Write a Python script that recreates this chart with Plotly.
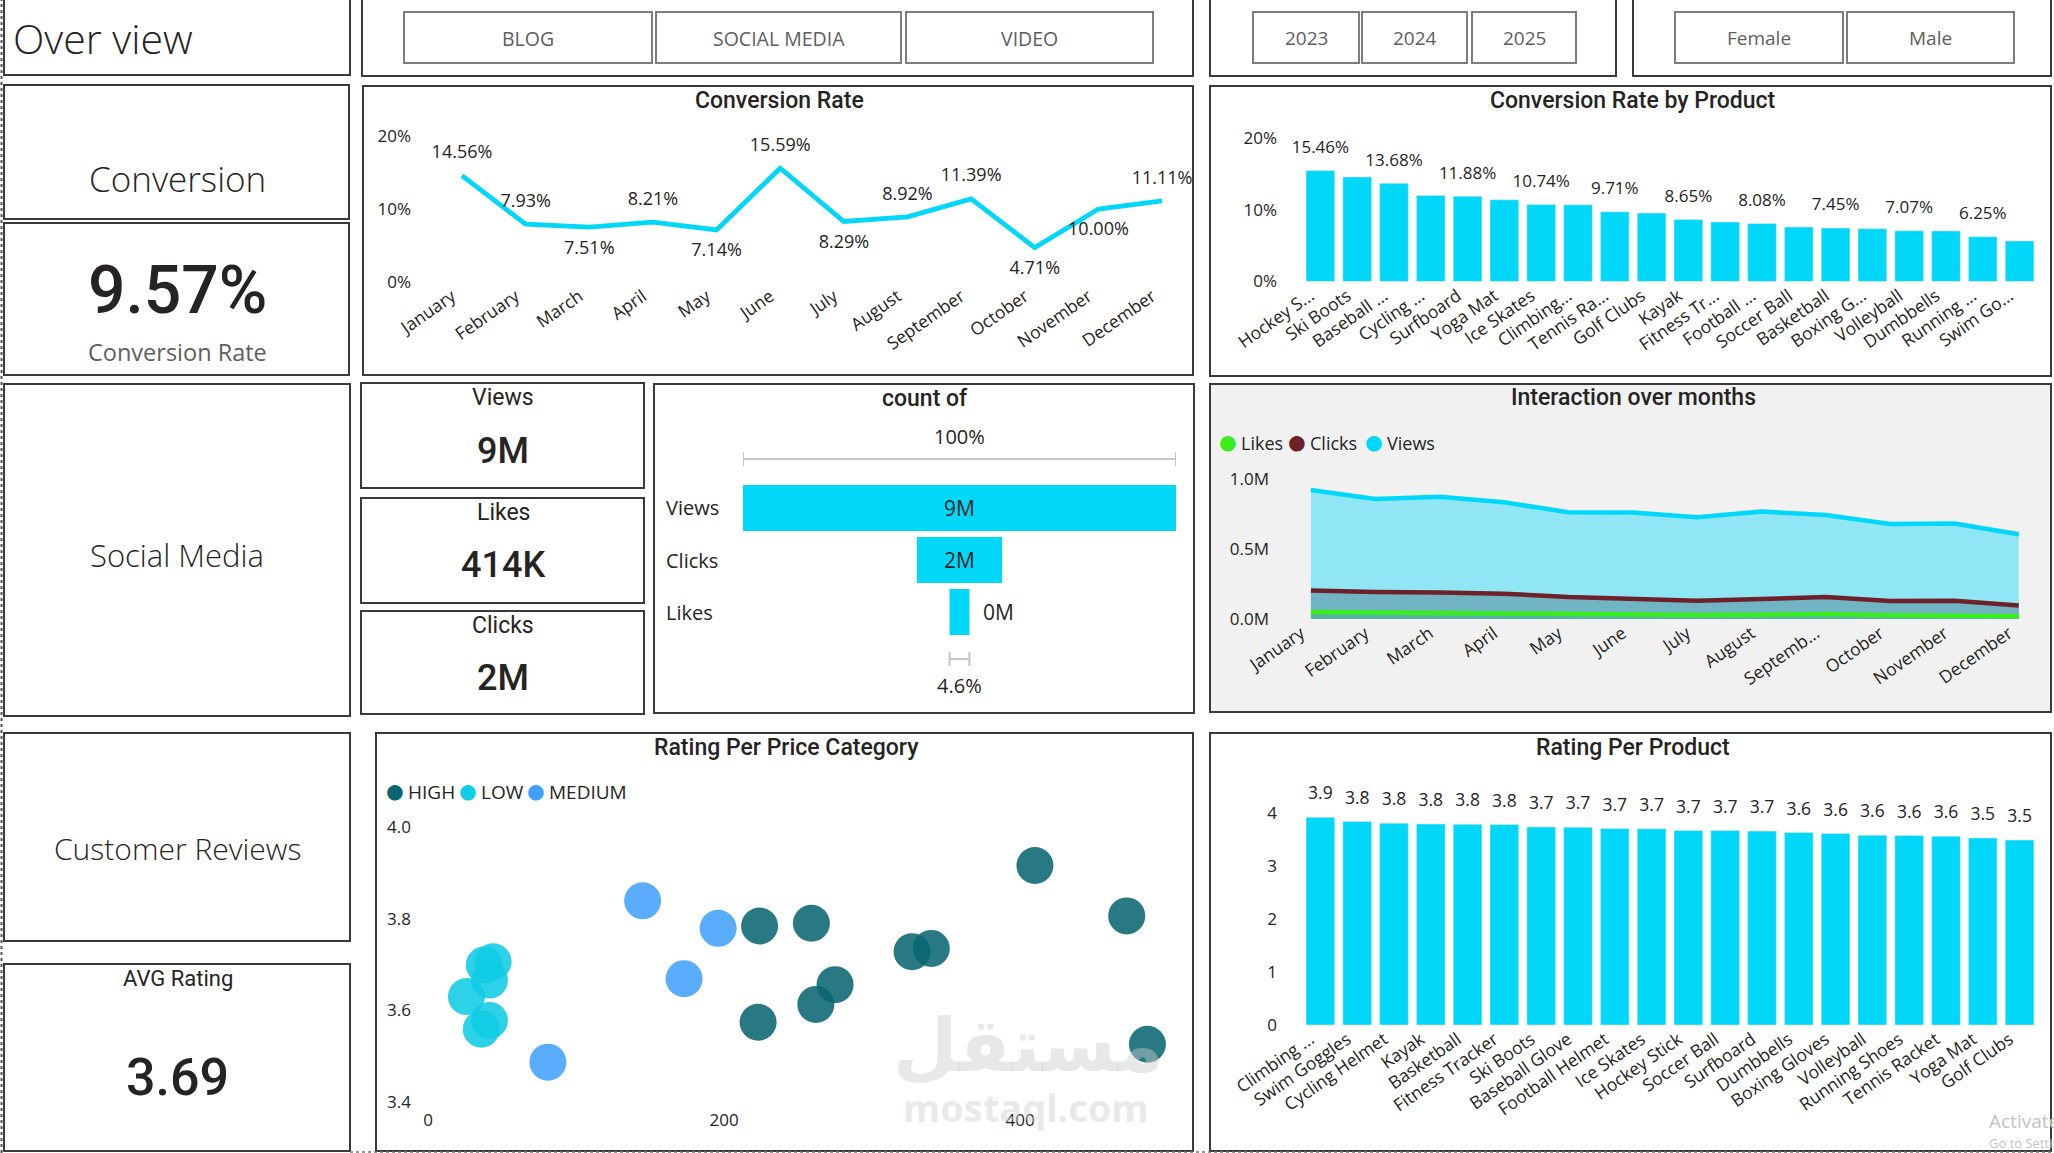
import plotly.graph_objects as go

W, H = 2054, 1153

# ---------------- DATA ----------------
months = ["January", "February", "March", "April", "May", "June", "July",
          "August", "September", "October", "November", "December"]
interaction_month_ticks = ["January", "February", "March", "April", "May", "June", "July",
                           "August", "Septemb...", "October", "November", "December"]
conversion_rate = [14.56, 7.93, 7.51, 8.21, 7.14, 15.59, 8.29, 8.92, 11.39, 4.71, 10.00, 11.11]
percent_ticks = [0, 10, 20]

product_conv_names = ["Hockey S...", "Ski Boots", "Baseball ...", "Cycling ...", "Surfboard",
                      "Yoga Mat", "Ice Skates", "Climbing...", "Tennis Ra...", "Golf Clubs",
                      "Kayak", "Fitness Tr...", "Football ...", "Soccer Ball", "Basketball",
                      "Boxing G...", "Volleyball", "Dumbbells", "Running ...", "Swim Go..."]
product_conv_rate = [15.46, 14.58, 13.68, 11.99, 11.88, 11.39, 10.74, 10.69, 9.71, 9.54,
                     8.65, 8.29, 8.08, 7.59, 7.45, 7.36, 7.07, 7.04, 6.25, 5.65]

funnel_stages = ["Views", "Clicks", "Likes"]
funnel_values = [9_000_000, 1_770_000, 414_000]

views_monthly = [922000, 857000, 874000, 834000, 762000, 760000, 727000, 767000, 743000, 679000, 682000, 606000]
clicks_monthly = [204000, 192000, 190000, 181000, 157000, 147000, 131000, 143000, 157000, 128000, 131000, 97000]
likes_monthly = [50000, 46000, 44000, 40000, 35000, 31000, 29000, 31000, 35000, 27000, 27000, 20000]
interaction_ticks = [0, 500_000, 1_000_000]

high_price = [410, 472, 224, 259, 327, 340, 275, 262, 223, 486]
high_rating = [3.916, 3.806, 3.784, 3.790, 3.728, 3.735, 3.656, 3.613, 3.574, 3.526]
low_price = [44, 38, 41.5, 26, 41.5, 36]
low_rating = [3.706, 3.699, 3.666, 3.630, 3.578, 3.559]
medium_price = [145, 196, 173, 81]
medium_rating = [3.839, 3.779, 3.669, 3.487]
price_ticks = [0, 200, 400]
rating_ticks = [3.4, 3.6, 3.8, 4.0]

rating_products = ["Climbing ...", "Swim Goggles", "Cycling Helmet", "Kayak", "Basketball",
                   "Fitness Tracker", "Ski Boots", "Baseball Glove", "Football Helmet", "Ice Skates",
                   "Hockey Stick", "Soccer Ball", "Surfboard", "Dumbbells", "Boxing Gloves",
                   "Volleyball", "Running Shoes", "Tennis Racket", "Yoga Mat", "Golf Clubs"]
rating_values = [3.916, 3.839, 3.806, 3.790, 3.784, 3.779, 3.735, 3.728, 3.706, 3.699,
                 3.669, 3.666, 3.656, 3.630, 3.613, 3.578, 3.574, 3.559, 3.526, 3.487]
product_rating_ticks = [0, 1, 2, 3, 4]

conversion_kpi = 9.57
avg_rating_kpi = 3.69
content_buttons = ["BLOG", "SOCIAL MEDIA", "VIDEO"]
year_buttons = ["2023", "2024", "2025"]
gender_buttons = ["Female", "Male"]

# ---------------- STYLE ----------------
CYAN = "#01D7F9"
TXT = "#252423"
GRAY_TXT = "#605E5C"
F_UI = "Open Sans"
F_DIN = "Roboto"
conv_label_side = ["top center", "top center", "bottom center", "top center", "bottom center",
                   "top center", "bottom center", "top center", "top center", "bottom center",
                   "bottom center", "top center"]
TICK_ANGLE = -35
TICK_SHIFT = -10


def fx(p):
    return p / W


def fy(p):
    return 1 - p / H


def short_m(v):
    return f"{v / 1e6:.0f}M"


def short_kpi(v):
    if v >= 1e6:
        return f"{v / 1e6:.0f}M"
    return f"{v / 1e3:.0f}K"


fig = go.Figure()

# --- Conversion Rate line ---
fig.add_trace(go.Scatter(
    x=months, y=conversion_rate, mode="lines+markers+text",
    line=dict(color=CYAN, width=4.8),
    marker=dict(size=19, color="rgba(0,0,0,0)"),
    text=[f"{v:.2f}%" for v in conversion_rate], textposition=conv_label_side,
    textfont=dict(size=18, color=TXT, family=F_UI), cliponaxis=False,
    xaxis="x", yaxis="y", showlegend=False, hoverinfo="skip"))

# --- Conversion Rate by Product bars ---
fig.add_trace(go.Bar(
    x=product_conv_names, y=product_conv_rate, marker=dict(color=CYAN),
    xaxis="x2", yaxis="y2", showlegend=False, hoverinfo="skip"))
fig.add_trace(go.Scatter(
    x=product_conv_names, y=product_conv_rate, mode="markers+text",
    marker=dict(size=20, color="rgba(0,0,0,0)"),
    text=[f"{v:.2f}%" if i % 2 == 0 else "" for i, v in enumerate(product_conv_rate)],
    textposition="top center", textfont=dict(size=17, color=TXT, family=F_UI),
    cliponaxis=False, xaxis="x2", yaxis="y2", showlegend=False, hoverinfo="skip"))

# --- Funnel ---
funnel_text_pos = ["inside", "inside", "outside"]
fig.add_trace(go.Funnel(
    y=funnel_stages, x=funnel_values,
    text=[("\u2002" if p == "outside" else "") + short_m(v)
          for v, p in zip(funnel_values, funnel_text_pos)],
    textinfo="text", textposition=funnel_text_pos,
    textfont=dict(size=21, color=TXT, family=F_UI),
    insidetextfont=dict(size=21, color=TXT, family=F_UI),
    outsidetextfont=dict(size=21, color=TXT, family=F_UI),
    constraintext="none",
    marker=dict(color=CYAN), connector=dict(visible=False),
    xaxis="x3", yaxis="y3", showlegend=False, hoverinfo="skip"))

# --- Interaction over months (areas) ---
area_series = [("Likes", likes_monthly, "#38EE1C", "rgba(56,238,28,0.4)"),
               ("Clicks", clicks_monthly, "#6E2129", "rgba(110,33,41,0.4)"),
               ("Views", views_monthly, "#00D7FA", "rgba(0,215,250,0.4)")]
for name, vals, col, fillc in area_series:
    fig.add_trace(go.Scatter(x=months, y=vals, mode="lines", fill="tozeroy", fillcolor=fillc,
                             line=dict(width=0, color=col), xaxis="x4", yaxis="y4",
                             showlegend=False, hoverinfo="skip"))
for name, vals, col, fillc in reversed(area_series):
    fig.add_trace(go.Scatter(x=months, y=vals, mode="lines", line=dict(width=4.5, color=col),
                             xaxis="x4", yaxis="y4", showlegend=False, hoverinfo="skip"))

# --- Rating per price category scatter ---
scatter_series = [(low_price, low_rating, "#0FCBE5"),
                  (medium_price, medium_rating, "#41A0FD"),
                  (high_price, high_rating, "#086570")]
for xs, ys, col in scatter_series:
    fig.add_trace(go.Scatter(x=xs, y=ys, mode="markers",
                             marker=dict(size=37, color=col, opacity=0.87, line=dict(width=0)),
                             xaxis="x5", yaxis="y5", showlegend=False, hoverinfo="skip",
                             cliponaxis=False))

# --- Rating per product bars ---
fig.add_trace(go.Bar(x=rating_products, y=rating_values, marker=dict(color=CYAN),
                     xaxis="x6", yaxis="y6", showlegend=False, hoverinfo="skip"))
fig.add_trace(go.Scatter(
    x=rating_products, y=rating_values, mode="markers+text",
    marker=dict(size=20, color="rgba(0,0,0,0)"),
    text=[f"{v:.1f}" for v in rating_values], textposition="top center",
    textfont=dict(size=17.5, color=TXT, family=F_UI), cliponaxis=False,
    xaxis="x6", yaxis="y6", showlegend=False, hoverinfo="skip"))

# ---------------- AXES ----------------
AX = dict(showgrid=False, zeroline=False, showline=False, ticks="", fixedrange=True,
          automargin=False)
XTICKF = dict(size=17.5, color=TXT, family=F_UI)
YTICKF = dict(size=17, color=TXT, family=F_UI)
ROT = dict(tickangle=TICK_ANGLE, tickfont=XTICKF, ticklabelshift=TICK_SHIFT)

layout_axes = dict(
    xaxis=dict(AX, domain=[fx(420), fx(1185)], range=[-0.66, 11.36], type="category",
               anchor="y", **ROT),
    yaxis=dict(AX, domain=[fy(282), fy(136)], range=[0, 20], tickvals=percent_ticks,
               ticktext=[f"{v}%" for v in percent_ticks], tickfont=YTICKF, anchor="x",
               ticklabelstandoff=8),
    xaxis2=dict(AX, domain=[fx(1302), fx(2038)], type="category", anchor="y2",
                range=[-0.5, len(product_conv_names) - 0.5], **ROT),
    yaxis2=dict(AX, domain=[fy(281.5), fy(138)], range=[0, 20], tickvals=percent_ticks,
                ticktext=[f"{v}%" for v in percent_ticks], tickfont=YTICKF, anchor="x2",
                ticklabelstandoff=24),
    xaxis3=dict(AX, domain=[fx(743), fx(1176)],
                range=[-funnel_values[0] / 2, funnel_values[0] / 2],
                showticklabels=False, anchor="y3"),
    yaxis3=dict(AX, domain=[fy(638), fy(482)], showticklabels=False, anchor="x3",
                autorange="reversed"),
    xaxis4=dict(AX, domain=[fx(1280), fx(2040)], range=[-0.48, 11.33], type="category",
                anchor="y4", tickvals=months, ticktext=interaction_month_ticks, **ROT),
    yaxis4=dict(AX, domain=[fy(619), fy(479)], range=[0, 1_000_000],
                tickvals=interaction_ticks, ticktext=[f"{v / 1e6:.1f}M" for v in interaction_ticks],
                tickfont=YTICKF, anchor="x4", ticklabelstandoff=10),
    xaxis5=dict(AX, domain=[fx(420), fx(1180)], range=[-5.4, 508], tickvals=price_ticks,
                tickfont=YTICKF, anchor="y5", ticklabelstandoff=6),
    yaxis5=dict(AX, domain=[fy(1102), fy(827)], range=[3.4, 4.0],
                tickvals=rating_ticks, ticktext=[f"{v:.1f}" for v in rating_ticks],
                tickfont=YTICKF, anchor="x5", ticklabelstandoff=8),
    xaxis6=dict(AX, domain=[fx(1302), fx(2038)], type="category", anchor="y6",
                range=[-0.5, len(rating_products) - 0.5], **ROT),
    yaxis6=dict(AX, domain=[fy(1025), fy(780)], range=[0, 4.62], tickvals=product_rating_ticks,
                tickfont=YTICKF, anchor="x6", ticklabelstandoff=24),
)

# ---------------- SHAPES ----------------
shapes = []


def rect(x0, y0, x1, y1, line="#3a3a3a", width=2, fill="rgba(0,0,0,0)"):
    shapes.append(dict(type="rect", xref="paper", yref="paper",
                       x0=fx(x0), x1=fx(x1), y0=fy(y1), y1=fy(y0),
                       line=dict(color=line, width=width), fillcolor=fill, layer="below"))


# panels
rect(4, -3, 350, 75)
rect(362, -3, 1193, 76)
rect(1210, -3, 1616, 76)
rect(1633, -3, 2051, 76)
rect(4, 85, 349, 219)
rect(4, 223, 349, 375)
rect(363, 86, 1193, 375)
rect(1210, 86, 2051, 376)
rect(4, 384, 350, 716)
rect(361, 383, 644, 488)
rect(361, 498, 644, 603)
rect(361, 611, 644, 714)
rect(654, 384, 1194, 713)
rect(1210, 384, 2051, 712, fill="#F0F1F0")
rect(4, 733, 350, 941)
rect(4, 964, 350, 1151)
rect(376, 733, 1193, 1151)
rect(1210, 733, 2051, 1151)

# buttons
btn_boxes_content = [(404, 652), (656, 901), (906, 1153)]
btn_boxes_year = [(1253, 1359), (1362, 1467), (1472, 1576)]
btn_boxes_gender = [(1675, 1843), (1847, 2014)]
for (a, b) in btn_boxes_content + btn_boxes_year + btn_boxes_gender:
    rect(a, 12, b, 63, line="#7d7d7d", width=2, fill="white")

# dotted selection edges
shapes.append(dict(type="line", xref="paper", yref="paper", x0=fx(1.5), x1=fx(1.5),
                   y0=0, y1=1, line=dict(color="#555", width=2, dash="dot")))
shapes.append(dict(type="line", xref="paper", yref="paper", x0=fx(350), x1=1,
                   y0=fy(1152), y1=fy(1152), line=dict(color="#777", width=1.5, dash="dot")))

# funnel brackets
V = funnel_values[0]
L = funnel_values[2]
BR = dict(color="#C6C6C6", width=2)
for (half, yy) in [(V / 2, 459), (L / 2, 659)]:
    shapes.append(dict(type="line", xref="x3", yref="paper", x0=-half, x1=half,
                       y0=fy(yy), y1=fy(yy), line=BR))
    for sx in (-half, half):
        shapes.append(dict(type="line", xref="x3", yref="paper", x0=sx, x1=sx,
                           y0=fy(yy - 7), y1=fy(yy + 7), line=BR))

# ---------------- ANNOTATIONS ----------------
annotations = []


def label(x, y, text, size, color=TXT, family=F_UI, xanchor="center", yanchor="middle",
          weight="normal", xref="paper", yref="paper"):
    annotations.append(dict(
        x=fx(x) if xref == "paper" else x, y=fy(y) if yref == "paper" else y,
        xref=xref, yref=yref, text=text, showarrow=False,
        xanchor=xanchor, yanchor=yanchor,
        font=dict(size=size, color=color, family=family, weight=weight)))


label(11, 38, "Over view", 41, xanchor="left", weight=350)
for t, (a, b) in zip(content_buttons, btn_boxes_content):
    label((a + b) / 2, 38, t, 19.5, color=GRAY_TXT)
for t, (a, b) in zip(year_buttons, btn_boxes_year):
    label((a + b) / 2, 38, t, 19, color=GRAY_TXT)
for t, (a, b) in zip(gender_buttons, btn_boxes_gender):
    label((a + b) / 2, 38, t, 19, color=GRAY_TXT)

# left column cards
label(177, 178, "Conversion", 35, weight=350)
label(177, 290, f"{conversion_kpi:.2f}%", 66, family=F_DIN, weight=500)
label(177, 352, "Conversion Rate", 23.5, color=GRAY_TXT)
label(177, 555, "Social Media", 31, weight=350)
label(177, 848, "Customer Reviews", 30, weight=350)
label(178, 978, "AVG Rating", 22, family=F_DIN)
label(177, 1077, f"{avg_rating_kpi:.2f}", 52, family=F_DIN, weight=500)

# KPI cards
kpi_titles = ["Views", "Likes", "Clicks"]
kpi_vals = [funnel_values[0], funnel_values[2], funnel_values[1]]
kpi_title_y = [397, 513, 625]
kpi_val_y = [451, 565, 678]
for t, v, ty, vy in zip(kpi_titles, kpi_vals, kpi_title_y, kpi_val_y):
    label(503, ty, t, 23, family=F_DIN)
    label(503, vy, short_kpi(v), 36, family=F_DIN, weight=500)

# chart titles
TITLE_SZ = 23
label(779, 100, "Conversion Rate", TITLE_SZ, family=F_DIN, weight=500)
label(1633, 100, "Conversion Rate by Product", TITLE_SZ, family=F_DIN, weight=500)
label(925, 398, "count of", TITLE_SZ, family=F_DIN, weight=500)
label(1633, 397, "Interaction over months", TITLE_SZ, family=F_DIN, weight=500)
label(786, 747, "Rating Per Price Category", TITLE_SZ, family=F_DIN, weight=500)
label(1633, 747, "Rating Per Product", TITLE_SZ, family=F_DIN, weight=500)

# funnel labels
for st in funnel_stages:
    label(664, st, st, 20, xanchor="left", yref="y3")
label(0, 436, f"{funnel_values[0] / funnel_values[0] * 100:.0f}%", 20, xref="x3")
label(0, 685, f"{funnel_values[2] / funnel_values[0] * 100:.1f}%", 20, xref="x3")

# interaction legend
for (name, vals, col, fillc), dx in zip(area_series, [1228, 1297, 1374]):
    label(dx, 440, "●", 36, color=col)
    label(dx + 11, 443, name, 18, xanchor="left")

# scatter legend
for name, col, dx in [("HIGH", "#0B6571", 395), ("LOW", "#11CDE5", 468), ("MEDIUM", "#41A0FD", 536)]:
    label(dx, 789, "●", 36, color=col)
    label(dx + 11, 792, name, 19, xanchor="left")

# watermarks
label(1028, 1045, "مستقل", 74, color="rgba(205,205,205,0.45)", family="DejaVu Sans", weight="bold")
label(1026, 1107, "mostaql.com", 38, color="rgba(205,205,205,0.45)", family="Noto Sans", weight="bold")
label(1987, 1121, "Activate Windows", 19, color="#C4C4C4", xanchor="left")
label(1987, 1143, "Go to Settings to activate Windows.", 13, color="#C4C4C4", xanchor="left")

fig.update_layout(
    width=W, height=H, margin=dict(l=0, r=0, t=0, b=0, autoexpand=False),
    paper_bgcolor="white", plot_bgcolor="rgba(0,0,0,0)",
    bargap=0.22, funnelgap=0.12, showlegend=False,
    shapes=shapes, annotations=annotations,
    font=dict(family=F_UI, color=TXT),
    **layout_axes)

fig.write_html("out.html",
               post_script="document.body.style.margin='0px';document.body.style.overflow='hidden';")
